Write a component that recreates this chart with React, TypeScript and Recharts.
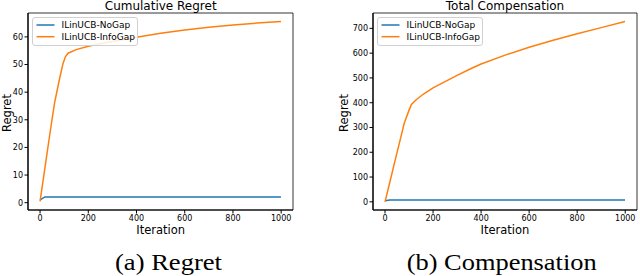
import React from 'react';
import { LineChart, Line, XAxis, YAxis, ReferenceArea, Legend } from 'recharts';

const FONT = '"DejaVu Sans", sans-serif';
const SERIF = '"Liberation Serif", "Times New Roman", Times, serif';
const BLUE = '#1f77b4';
const ORANGE = '#ff7f0e';

const seriesNames = ['ILinUCB-NoGap', 'ILinUCB-InfoGap'];
const xTicks = [0, 200, 400, 600, 800, 1000];

// (a) Cumulative Regret
const regretIters = [0, 20, 40, 60, 80, 95, 105, 116, 150, 200, 250, 300, 400, 500, 600, 700, 800, 900, 999];
const regretNoGap = [1.0, 2.1, 2.1, 2.1, 2.1, 2.1, 2.1, 2.1, 2.1, 2.1, 2.1, 2.1, 2.1, 2.1, 2.1, 2.1, 2.1, 2.1, 2.1];
const regretInfoGap = [0.5, 12.5, 24.5, 36, 44.5, 50.3, 52.8, 54.1, 55.4, 56.6, 57.5, 58.3, 59.9, 61.3, 62.5, 63.5, 64.3, 65.0, 65.6];
const regretTicks = [0, 10, 20, 30, 40, 50, 60];
const regretDomain = [-2.65, 68.65];

// (b) Total Compensation
const compIters = [0, 20, 40, 60, 80, 100, 110, 130, 160, 200, 250, 300, 363, 400, 500, 600, 700, 800, 900, 999];
const compNoGap = [4, 7.5, 7.5, 7.5, 7.5, 7.5, 7.5, 7.5, 7.5, 7.5, 7.5, 7.5, 7.5, 7.5, 7.5, 7.5, 7.5, 7.5, 7.5, 7.5];
const compInfoGap = [0, 79, 159, 238, 317, 370, 393, 412, 435, 460, 485, 510, 540, 556, 592, 624, 652, 678, 703, 728];
const compTicks = [0, 100, 200, 300, 400, 500, 600, 700];
const compDomain = [-33, 762];

const xDomain = [-50, 1049];

const buildRows = (iters: number[], a: number[], b: number[]) =>
  iters.map((x, i) => ({ x, noGap: a[i], infoGap: b[i] }));

const tickStyle = { fontSize: 8, fill: '#000', fontFamily: FONT };

const LegendBox = () => (
  <svg width={107} height={30} style={{ display: 'block' }}>
    <rect x={0.5} y={0.5} width={105} height={28} rx={2.5} fill="rgba(255,255,255,0.85)" stroke="#d0d0d0" strokeWidth={1} />
    <line x1={4.5} x2={22.5} y1={8} y2={8} stroke={BLUE} strokeWidth={1.5} />
    <text x={29.5} y={11.2} fontSize={9} fontFamily={FONT} fill="#000">{seriesNames[0]}</text>
    <line x1={4.5} x2={22.5} y1={19.7} y2={19.7} stroke={ORANGE} strokeWidth={1.5} />
    <text x={29.5} y={22.9} fontSize={9} fontFamily={FONT} fill="#000">{seriesNames[1]}</text>
  </svg>
);

type PanelProps = {
  rows: { x: number; noGap: number; infoGap: number }[];
  yTicks: number[];
  yDomain: number[];
  yAxisWidth: number;
  marginRight: number;
  legendLeft: number;
};

const Panel = ({ rows, yTicks, yDomain, yAxisWidth, marginRight, legendLeft }: PanelProps) => (
  <LineChart
    width={320}
    height={276}
    data={rows}
    margin={{ top: 13, right: marginRight, bottom: 36, left: 0 }}
  >
    <XAxis
      type="number"
      dataKey="x"
      domain={xDomain}
      ticks={xTicks}
      height={30}
      tickSize={3.5}
      tickMargin={1.5}
      tick={tickStyle}
      axisLine={{ stroke: '#000', strokeWidth: 1.2 }}
      tickLine={{ stroke: '#000' }}
      allowDataOverflow
    />
    <YAxis
      type="number"
      domain={yDomain}
      ticks={yTicks}
      width={yAxisWidth}
      tickSize={3.5}
      tickMargin={1.5}
      tick={tickStyle}
      axisLine={{ stroke: '#000', strokeWidth: 1.2 }}
      tickLine={{ stroke: '#000' }}
      allowDataOverflow
    />
    <ReferenceArea
      x1={xDomain[0]}
      x2={xDomain[1]}
      y1={yDomain[0]}
      y2={yDomain[1]}
      fill="none"
      fillOpacity={0}
      stroke="#000"
      strokeWidth={0.8}
      ifOverflow="visible"
    />
    <Line
      type="linear"
      dataKey="noGap"
      name={seriesNames[0]}
      stroke={BLUE}
      strokeWidth={1.5}
      dot={false}
      isAnimationActive={false}
    />
    <Line
      type="linear"
      dataKey="infoGap"
      name={seriesNames[1]}
      stroke={ORANGE}
      strokeWidth={1.5}
      dot={false}
      isAnimationActive={false}
    />
    <Legend
      layout="vertical"
      align="center"
      verticalAlign="middle"
      content={() => <LegendBox />}
      wrapperStyle={{ left: legendLeft, top: 17, width: 107, height: 30 }}
    />
  </LineChart>
);

export default function App() {
  const regretRows = buildRows(regretIters, regretNoGap, regretInfoGap);
  const compRows = buildRows(compIters, compNoGap, compInfoGap);
  return (
    <div style={{ position: 'absolute', left: 0, top: 0, width: 640, height: 276, background: '#fff', overflow: 'hidden' }}>
      <div style={{ position: 'absolute', left: 0, top: 0 }}>
        <Panel rows={regretRows} yTicks={regretTicks} yDomain={regretDomain} yAxisWidth={28} marginRight={27} legendLeft={32} />
      </div>
      <div style={{ position: 'absolute', left: 320, top: 0 }}>
        <Panel rows={compRows} yTicks={compTicks} yDomain={compDomain} yAxisWidth={53} marginRight={3} legendLeft={56.7} />
      </div>
      <svg width={640} height={276} style={{ position: 'absolute', left: 0, top: 0, pointerEvents: 'none' }}>
        <text x={160.7} y={9.5} textAnchor="middle" fontSize={12} fontFamily={FONT} fill="#000">Cumulative Regret</text>
        <text x={505} y={9.5} textAnchor="middle" fontSize={12} fontFamily={FONT} fill="#000">Total Compensation</text>
        <text x={160.7} y={234} textAnchor="middle" fontSize={11.5} fontFamily={FONT} fill="#000">Iteration</text>
        <text x={505} y={234} textAnchor="middle" fontSize={11.5} fontFamily={FONT} fill="#000">Iteration</text>
        <text x={0} y={0} transform="translate(11,113) rotate(-90)" textAnchor="middle" fontSize={11.5} fontFamily={FONT} fill="#000">Regret</text>
        <text x={0} y={0} transform="translate(347.6,113) rotate(-90)" textAnchor="middle" fontSize={11.5} fontFamily={FONT} fill="#000">Regret</text>
        <text x={168.5} y={269.5} textAnchor="middle" fontSize={22.6} fontFamily={SERIF} fill="#000" textLength={107} lengthAdjust="spacingAndGlyphs">(a) Regret</text>
        <text x={501.7} y={269.5} textAnchor="middle" fontSize={22.6} fontFamily={SERIF} fill="#000" textLength={190} lengthAdjust="spacingAndGlyphs">(b) Compensation</text>
      </svg>
    </div>
  );
}
